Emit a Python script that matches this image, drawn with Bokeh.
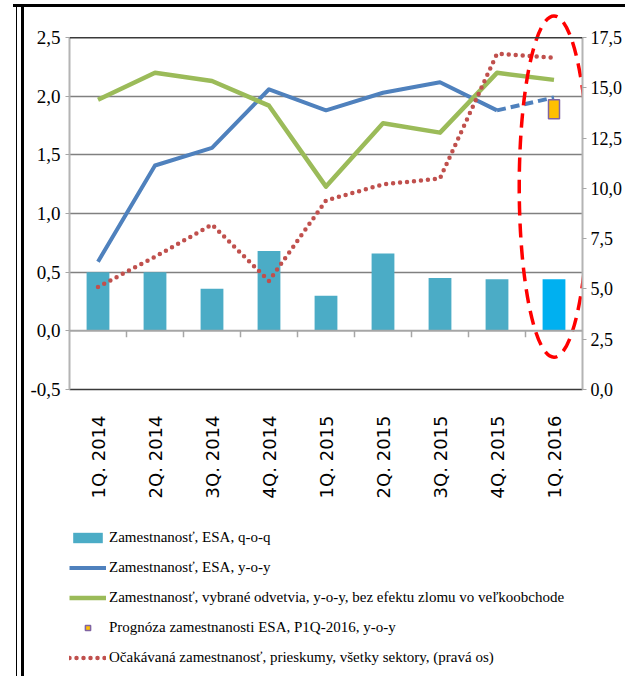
import math
from bokeh.plotting import figure
from bokeh.layouts import column
from bokeh.models import (FactorRange, Range1d, LinearAxis, FixedTicker, Span,
                          Legend, LegendItem, CustomJSTickFormatter, ColumnDataSource)
from bokeh.embed import file_html
from bokeh.resources import INLINE

# ---------------- data ----------------
quarters = ["1Q. 2014", "2Q. 2014", "3Q. 2014", "4Q. 2014", "1Q. 2015",
            "2Q. 2015", "3Q. 2015", "4Q. 2015", "1Q. 2016"]
qoq = [0.50, 0.50, 0.36, 0.68, 0.30, 0.66, 0.45, 0.44, 0.44]          # bars, left axis
yoy = [0.59, 1.41, 1.56, 2.06, 1.88, 2.03, 2.12, 1.88, 1.99]          # blue, left axis (last = estimate)
sectors = [1.97, 2.20, 2.13, 1.92, 1.23, 1.77, 1.69, 2.20, 2.14]      # green, left axis
expected = [5.1, 6.6, 8.2, 5.4, 9.4, 10.2, 10.5, 16.7, 16.5]          # red dotted, right axis
forecast_q = ["1Q. 2016"]
forecast = [1.89]
left_ticks = [-0.5, 0.0, 0.5, 1.0, 1.5, 2.0, 2.5]
right_ticks = [0.0, 2.5, 5.0, 7.5, 10.0, 12.5, 15.0, 17.5]
grid_ticks = [0.5, 1.0, 1.5, 2.0]

labels = ["Zamestnanosť, ESA, q-o-q",
          "Zamestnanosť, ESA, y-o-y",
          "Zamestnanosť, vybrané odvetvia, y-o-y, bez efektu zlomu vo veľkoobchode",
          "Prognóza zamestnanosti ESA, P1Q-2016, y-o-y",
          "Očakávaná zamestnanosť, prieskumy, všetky sektory, (pravá os)"]

# ---------------- layout / style constants ----------------
LEFT_MIN, LEFT_MAX, LEFT_TOP = -0.5, 2.5, 2.74
RIGHT_MAX = 17.5
ratio = RIGHT_MAX / (LEFT_MAX - LEFT_MIN)
ELL_Y, ELL_W, ELL_H = 1.23, 1.22, 2.91

C_BAR, C_BAR_LAST = "#4BACC6", "#00B0F0"
C_BLUE, C_GREEN, C_RED = "#4F81BD", "#9BBB59", "#C0504D"
C_FC_FILL, C_FC_LINE = "#FFC000", "#8064A2"
bar_colors = [C_BAR] * (len(quarters) - 1) + [C_BAR_LAST]
SERIF = "Liberation Serif"
W = 612

p = figure(width=W, height=494,
           x_range=FactorRange(factors=quarters, range_padding=0),
           y_range=Range1d(LEFT_MIN, LEFT_TOP),
           output_backend="svg", toolbar_location=None,
           min_border_left=51, min_border_right=0, min_border_top=2, min_border_bottom=110,
           outline_line_color=None, border_fill_color=None)
p.extra_y_ranges = {"right": Range1d(0, (LEFT_TOP - LEFT_MIN) * ratio)}

fmt = CustomJSTickFormatter(code="return tick.toFixed(1).replace('.', ',');")

# left axis
ya = p.yaxis[0]
ya.ticker = FixedTicker(ticks=left_ticks)
ya.bounds = (LEFT_MIN, LEFT_MAX)
ya.formatter = fmt
ya.major_label_text_font = SERIF
ya.major_label_text_font_size = "19px"
ya.major_label_text_color = "black"
ya.major_label_standoff = 5
ya.major_tick_out = 4
ya.major_tick_in = 0
ya.minor_tick_line_color = None
ya.major_tick_line_color = "#A6A6A6"
ya.axis_line_color = "#B4B4B4"
ya.axis_line_width = 2

# right axis
ra = LinearAxis(y_range_name="right", ticker=FixedTicker(ticks=right_ticks),
                bounds=(0, RIGHT_MAX), formatter=fmt)
ra.major_label_text_font = SERIF
ra.major_label_text_font_size = "18px"
ra.major_label_text_color = "black"
ra.major_label_standoff = 4
ra.major_tick_out = 4
ra.major_tick_in = 0
ra.minor_tick_line_color = None
ra.major_tick_line_color = "#A6A6A6"
ra.axis_line_color = "#B4B4B4"
ra.axis_line_width = 2
p.add_layout(ra, "right")

# category axis
xa = p.xaxis[0]
xa.major_label_orientation = math.pi / 2
xa.major_label_text_font = "DejaVu Sans"
xa.major_label_text_font_size = "18px"
xa.major_label_text_color = "black"
xa.major_label_standoff = 20
xa.major_tick_line_color = None
xa.minor_tick_line_color = None
xa.axis_line_color = "#3A3A3A"
xa.axis_line_width = 1.5

# grid
p.xgrid.visible = False
p.ygrid.ticker = FixedTicker(ticks=grid_ticks)
p.ygrid.grid_line_color = "#000000"
p.ygrid.grid_line_dash = "1 1"
p.ygrid.grid_line_width = 1.4

p.add_layout(Span(location=LEFT_MAX, dimension="width", line_color="#3A3A3A", line_width=1.5))
p.add_layout(Span(location=0, dimension="width", line_color="#A6A6A6", line_width=2))
# category boundary ticks on the zero line (synthetic categorical coordinates)
bounds_x = list(range(1, len(quarters)))
p.segment(x0=bounds_x, y0=[0] * len(bounds_x), x1=bounds_x, y1=[-0.055] * len(bounds_x),
          line_color="#A6A6A6", line_width=1.5)

# bars
src = ColumnDataSource(dict(q=quarters, v=qoq, c=bar_colors))
p.vbar(x="q", top="v", width=0.4, source=src, fill_color="c", line_color=None)

# lines
p.line(quarters[:-1], yoy[:-1], line_color=C_BLUE, line_width=4, line_join="round")
p.line(quarters[-2:], yoy[-2:], line_color=C_BLUE, line_width=4, line_dash="9 5")
p.line(quarters, sectors, line_color=C_GREEN, line_width=4.5, line_join="round")
p.rect(forecast_q, forecast, width=11, height=19, width_units="screen", height_units="screen",
       fill_color=C_FC_FILL, line_color=C_FC_LINE, line_width=1.5)
p.line(quarters, expected, y_range_name="right", line_color=C_RED,
       line_width=4.5, line_dash="0 7", line_cap="round")

# highlight ellipse
p.ellipse(x=forecast_q, y=[ELL_Y], width=ELL_W, height=ELL_H, fill_color=None,
          line_color="#FF0000", line_width=3.5, line_dash="14 8")

# ---------------- legend (separate panel below; series kept below the view as legend sources) ----------------
q = figure(width=W, height=175, output_backend="svg", toolbar_location=None,
           x_range=FactorRange(factors=quarters), y_range=Range1d(50, 51),
           x_axis_location=None, y_axis_location=None, outline_line_color=None,
           border_fill_color=None, background_fill_color=None,
           min_border_left=56, min_border_right=0, min_border_top=26, min_border_bottom=0)
q.grid.visible = False
g_bar = q.vbar(x=quarters, top=qoq, width=0.4, fill_color=C_BAR, line_color=None)
g_blue = q.line(quarters, yoy, line_color=C_BLUE, line_width=4)
g_green = q.line(quarters, sectors, line_color=C_GREEN, line_width=4.5)
g_fc = q.scatter(forecast_q, forecast, marker="square", size=8, fill_color=C_FC_FILL,
                 line_color=C_FC_LINE, line_width=1.5)
g_red = q.line(quarters, expected, line_color=C_RED, line_width=4.5, line_dash="0 7",
               line_cap="round")

legend = Legend(items=[LegendItem(label=labels[0], renderers=[g_bar]),
                       LegendItem(label=labels[1], renderers=[g_blue]),
                       LegendItem(label=labels[2], renderers=[g_green]),
                       LegendItem(label=labels[3], renderers=[g_fc]),
                       LegendItem(label=labels[4], renderers=[g_red])],
                location="top_left", orientation="vertical",
                border_line_color=None, background_fill_alpha=0,
                padding=6, margin=0, spacing=10,
                glyph_width=37, glyph_height=13, label_height=20, label_standoff=3,
                label_text_font=SERIF, label_text_font_size="15px", label_text_color="black")
q.add_layout(legend, "center")

lay = column(p, q, spacing=0)
lay.styles = {"margin-left": "13px", "margin-top": "4px",
              "border-top": "3px solid black",
              "box-shadow": ("inset 3px 0 0 0 white, inset 4px 0 0 0 black, "
                             "inset 8px 0 0 0 white, inset 11px 0 0 0 black")}

open("out.html", "w").write(file_html(lay, INLINE))
